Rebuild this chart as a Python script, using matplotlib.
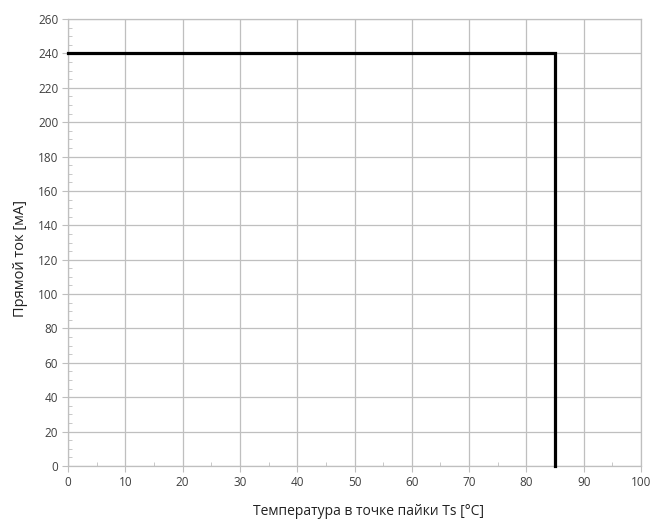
import matplotlib
matplotlib.use("Agg")
import matplotlib.pyplot as plt
from matplotlib.ticker import MultipleLocator

# curve: max forward current vs solder point temperature
temp = [0, 85, 85]
current = [240, 240, 0]

plt.rcParams['font.family'] = ['Open Sans', 'DejaVu Sans']

fig = plt.figure(figsize=(6.51, 5.2), dpi=100)
ax = fig.add_axes([0.1045, 0.1038, 0.8801, 0.8597])

ax.plot(temp, current, color='black', lw=2.3, solid_joinstyle='miter', zorder=3, clip_on=False)

ax.set_xlim(0, 100)
ax.set_ylim(0, 260)
ax.xaxis.set_major_locator(MultipleLocator(10))
ax.yaxis.set_major_locator(MultipleLocator(20))
ax.xaxis.set_minor_locator(MultipleLocator(5))
ax.yaxis.set_minor_locator(MultipleLocator(5))

ax.grid(True, which='major', color='#bfbfbf', lw=0.9)
for s in ax.spines.values():
    s.set_color('#bfbfbf')
    s.set_linewidth(0.9)

ax.tick_params(which='major', direction='out', length=4, color='#bfbfbf',
               labelsize=8.5, labelcolor='#404040', pad=3)
ax.tick_params(which='minor', direction='in', length=3, color='#bfbfbf')
ax.tick_params(top=False, right=False)

ax.set_xlabel('Температура в точке пайки Ts [°C]', fontsize=10, color='#222222')
ax.set_ylabel('Прямой ток [мА]', fontsize=10.5, color='#222222')
ax.xaxis.set_label_coords(0.5236, -0.085)
ax.yaxis.set_label_coords(-0.07, 0.465)

fig.savefig('out.png', dpi=100)
